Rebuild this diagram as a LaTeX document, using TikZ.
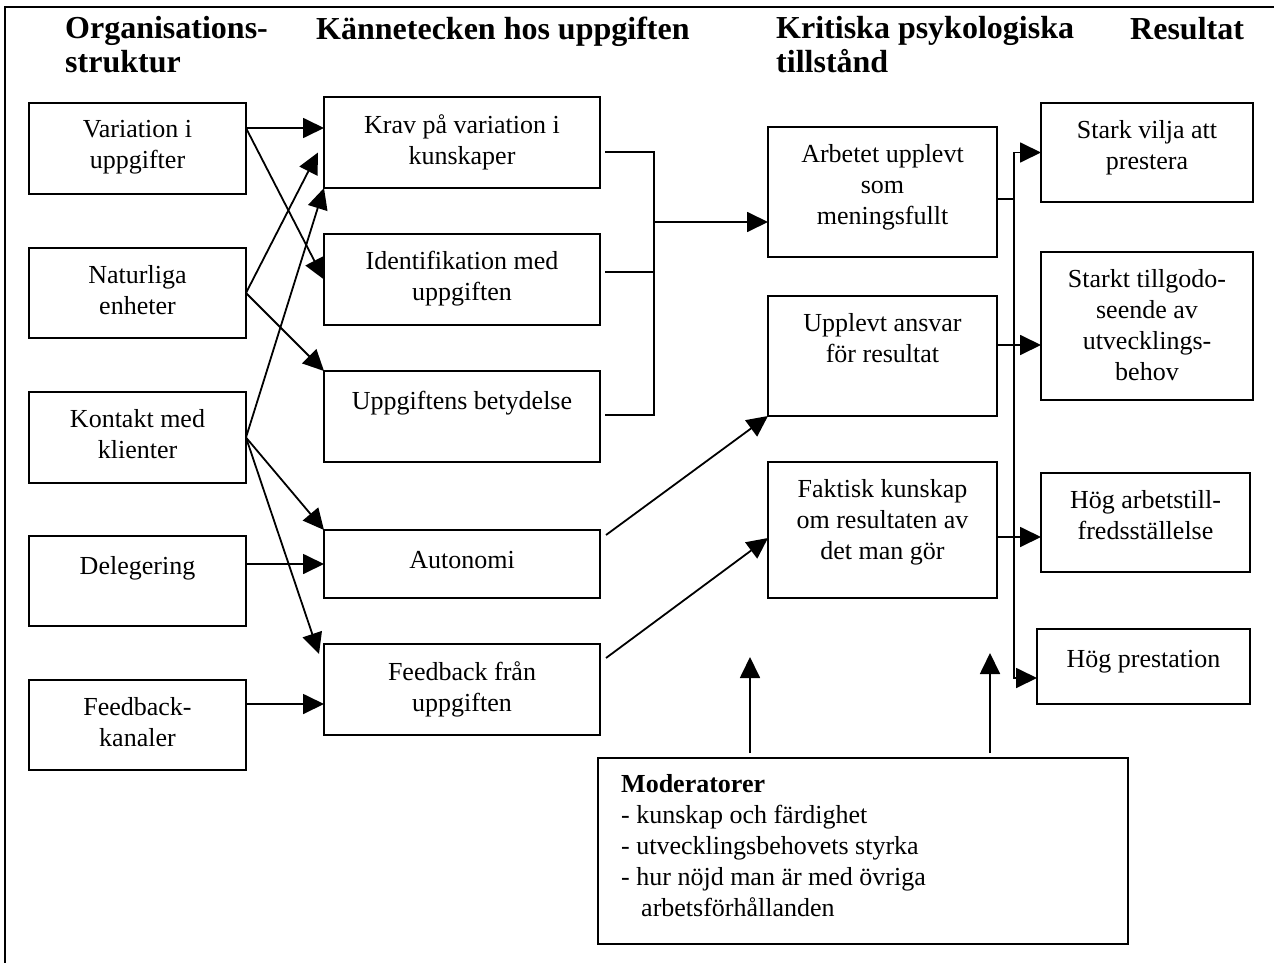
\documentclass[tikz,border=0pt]{standalone}
\usepackage{fontspec}
\setmainfont{Liberation Serif}
\usetikzlibrary{arrows.meta}
\newcommand{\mkbox}[6]{%
  \node[box, minimum width={(#4)-(#2)}, minimum height={(#5)-(#3)}] (#1) at ({((#2)+(#4))/2},{((#3)+(#5))/2}) {};
  \node[txt, anchor=north] (#1t) at ([yshift=-17pt]#1.north) {#6};
}
\begin{document}
\begin{tikzpicture}[x=1pt,y=-1pt,
  box/.style={draw, line width=1.8pt, rectangle, inner sep=0pt, outer sep=0pt},
  txt/.style={font=\fontsize{26}{31}\selectfont, align=center, inner sep=0pt, execute at begin node=\strut},
  mtxt/.style={font=\fontsize{26}{31}\selectfont, align=left, inner sep=0pt, execute at begin node=\strut},
  hdr/.style={font=\fontsize{32}{34}\selectfont\bfseries, align=left, inner sep=0pt, anchor=north west, execute at begin node=\strut},
  arr/.style={line width=1.8pt, -{Triangle[length=21pt,width=20pt]}},
  ln/.style={line width=1.8pt, line cap=rect}]
\useasboundingbox (0,0) rectangle (1274,963);
\draw[line width=1.8pt] (5,963) -- (5,7) -- (1274,7);
% headers
\node[hdr] (h1) at (65,16) {Organisations-\\struktur};
\node[hdr] (h2) at (316,16) {Kännetecken hos uppgiften};
\node[hdr] (h3) at (776,16) {Kritiska psykologiska\\tillstånd};
\node[hdr] (h4) at (1130,16) {Resultat};
% left column
\mkbox{A1}{29}{103}{246}{194}{Variation i\\uppgifter}
\mkbox{A2}{29}{248}{246}{338}{Naturliga\\enheter}
\mkbox{A3}{29}{392}{246}{483}{Kontakt med\\klienter}
\mkbox{A4}{29}{536}{246}{626}{Delegering}
\mkbox{A5}{29}{680}{246}{770}{Feedback-\\kanaler}
% middle column
\mkbox{B1}{324}{97}{600}{188}{Krav på variation i\\kunskaper}
\mkbox{B2}{324}{234}{600}{325}{Identifikation med\\uppgiften}
\mkbox{B3}{324}{371}{600}{462}{Uppgiftens betydelse}
\mkbox{B4}{324}{530}{600}{598}{Autonomi}
\mkbox{B5}{324}{644}{600}{735}{Feedback från\\uppgiften}
% critical states
\mkbox{C1}{768}{127}{997}{257}{Arbetet upplevt\\som\\meningsfullt}
\mkbox{C2}{768}{296}{997}{416}{Upplevt ansvar\\för resultat}
\mkbox{C3}{768}{462}{997}{598}{Faktisk kunskap\\om resultaten av\\det man gör}
% results
\mkbox{D1}{1041}{103}{1253}{202}{Stark vilja att\\prestera}
\mkbox{D2}{1041}{252}{1253}{400}{Starkt tillgodo-\\seende av\\utvecklings-\\behov}
\mkbox{D3}{1041}{473}{1250}{572}{Hög arbetstill-\\fredsställelse}
\mkbox{D4}{1037}{629}{1250}{704}{Hög prestation}
% moderators
\node[box, minimum width=530pt, minimum height=186pt] (M) at (863,851) {};
\node[mtxt, anchor=north west] (Mt) at ([xshift=23pt,yshift=-16pt]M.north west)
  {\textbf{Moderatorer}\\- kunskap och färdighet\\- utvecklingsbehovets styrka\\- hur nöjd man är med övriga\\\hspace*{20pt}arbetsförhållanden};
% left -> middle
\coordinate (a1o) at ([yshift=20.5pt]A1.east);
\coordinate (a5o) at ([yshift=21pt]A5.east);
\draw[arr] (a1o) -- (a1o -| B1.west);
\draw[arr] (a1o) -- (B2.west);
\draw[arr] (A2.east) -- ([xshift=-6pt,yshift=-10pt]B1.west);
\draw[arr] (A2.east) -- (B3.north west);
\draw[arr] (A3.east) -- (B1.south west);
\draw[arr] (A3.east) -- (B4.north west);
\draw[arr] (A3.east) -- ([xshift=-5pt,yshift=-10pt]B5.north west);
\draw[arr] (A4.east |- B4.west) -- (B4.west);
\draw[arr] (a5o) -- (a5o -| B5.west);
% bracket to C1
\coordinate (b1o) at ([xshift=5pt,yshift=-9.5pt]B1.east);
\coordinate (b2o) at ([xshift=5pt,yshift=7.5pt]B2.east);
\coordinate (b3o) at ([xshift=5pt,yshift=1.5pt]B3.east);
\coordinate (j1) at ([xshift=49pt]b1o);
\coordinate (c1i) at ([yshift=-30pt]C1.west);
\draw[line width=1.8pt] (b1o) -- (j1) -- (j1 |- b3o) -- (b3o);
\draw[line width=1.8pt] (b2o) -- (j1 |- b2o);
\draw[arr] (j1 |- c1i) -- (c1i);
% middle -> critical
\coordinate (b4o) at ([xshift=6pt,yshift=29pt]B4.east);
\coordinate (b5o) at ([xshift=6pt,yshift=31.5pt]B5.east);
\draw[arr] (b4o) -- (C2.south west);
\draw[arr] (b5o) -- ([yshift=-8pt]C3.west);
% critical -> results
\coordinate (c1o) at ([yshift=-7pt]C1.east);
\coordinate (c2o) at ([yshift=11pt]C2.east);
\coordinate (c3o) at ([yshift=-7pt]C3.east);
\coordinate (v) at ([xshift=17pt]c1o);
\coordinate (d1i) at (D1.west);
\coordinate (d2i) at ([yshift=-19pt]D2.west);
\coordinate (d3i) at ([yshift=-14.5pt]D3.west);
\coordinate (d4i) at ([yshift=-11.5pt]D4.west);
\draw[ln] (c1o) -- (v |- c1o);
\draw[ln] (c2o) -- (v |- c2o);
\draw[ln] (c3o) -- (v |- c3o);
\draw[ln] (v |- d1i) -- (v |- d4i);
\draw[arr] (v |- d1i) -- (d1i);
\draw[arr] (v |- d2i) -- (d2i);
\draw[arr] (v |- d3i) -- (d3i);
\draw[arr] (v |- d4i) -- (d4i);
% moderator arrows
\coordinate (m1o) at ([xshift=152pt,yshift=5pt]M.north west);
\coordinate (m2o) at ([xshift=392pt,yshift=5pt]M.north west);
\draw[arr] (m1o) -- ([yshift=96pt]m1o);
\draw[arr] (m2o) -- ([yshift=100pt]m2o);
\end{tikzpicture}
\end{document}
